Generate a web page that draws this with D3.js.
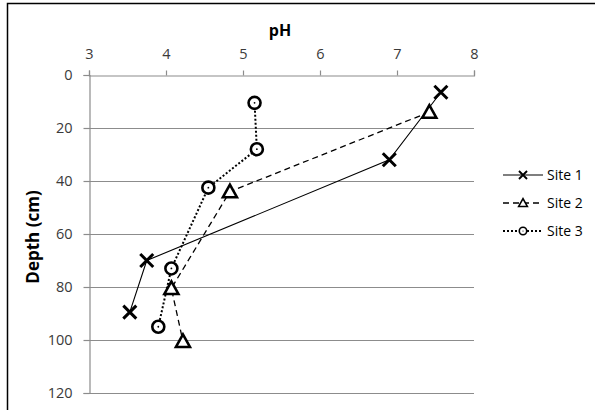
<!DOCTYPE html>
<html>
<head>
<meta charset="utf-8">
<script src="https://cdn.jsdelivr.net/npm/d3@7"></script>
<style>
  html, body { margin: 0; padding: 0; background: #fff; }
  svg { display: block; }
  text { font-family: "Open Sans", Lato, sans-serif; }
</style>
</head>
<body>
<svg id="chart" width="595" height="410"></svg>
<script>
// Soil pH profiles at three sites (pH vs depth)
const seriesNames = ["Site 1", "Site 2", "Site 3"];
const site1PH    = [7.57, 6.90, 3.75, 3.53];
const site1Depth = [6.5, 32, 70, 89.5];
const site2PH    = [7.42, 4.83, 4.07, 4.22];
const site2Depth = [14, 44, 80.5, 100.5];
const site3PH    = [5.15, 5.18, 4.55, 4.07, 3.90];
const site3Depth = [10.5, 28, 42.5, 73, 95];
const phTicks    = [3, 4, 5, 6, 7, 8];
const depthTicks = [0, 20, 40, 60, 80, 100, 120];

const series = [
  { name: seriesNames[0], ph: site1PH, depth: site1Depth, marker: "cross",    dash: null,  width: 1.1 },
  { name: seriesNames[1], ph: site2PH, depth: site2Depth, marker: "triangle", dash: "6,4", width: 1.3 },
  { name: seriesNames[2], ph: site3PH, depth: site3Depth, marker: "circle",   dash: "2,2", width: 2 }
];

const svg = d3.select("#chart");
const W = 595, H = 410;
const plotLeft = 89, plotRight = 474, plotTop = 75, plotBottom = 393;

// outer chart frame
svg.append("rect").attr("x", 7.5).attr("y", 3.5).attr("width", W + 10).attr("height", H + 10)
  .attr("fill", "#fff").attr("stroke", "#000").attr("stroke-width", 1.5);

const x = d3.scaleLinear().domain([3, 8]).range([plotLeft, plotRight]);
const y = d3.scaleLinear().domain([0, 120]).range([plotTop, plotBottom]);

// horizontal gridlines
svg.append("g").selectAll("line").data(depthTicks.filter(d => d > 0)).join("line")
  .attr("x1", plotLeft).attr("x2", plotRight)
  .attr("y1", d => Math.round(y(d)) + 0.5).attr("y2", d => Math.round(y(d)) + 0.5)
  .attr("stroke", "#8c8c8c").attr("stroke-width", 1.2);

// top pH axis
const xAxis = svg.append("g").attr("transform", `translate(0,${Math.round(plotTop) + 0.5})`)
  .call(d3.axisTop(x).tickValues(phTicks).tickSize(5).tickPadding(12).tickFormat(d3.format("d")));
// left depth axis
const yAxis = svg.append("g").attr("transform", `translate(${Math.round(plotLeft) + 0.5},0)`)
  .call(d3.axisLeft(y).tickValues(depthTicks).tickSize(6).tickPadding(11).tickFormat(d3.format("d")));

[xAxis, yAxis].forEach(g => {
  g.select(".domain").attr("stroke", "#8c8c8c").attr("stroke-width", 1.2);
  g.selectAll(".tick line").attr("stroke", "#8c8c8c").attr("stroke-width", 1.2);
  g.selectAll(".tick text").attr("fill", "#3a3a3a").style("font-size", "14.5px")
    .style("font-family", "'Open Sans', Lato, sans-serif");
});

// axis titles
svg.append("text").attr("x", 280).attr("y", 36).attr("text-anchor", "middle")
  .style("font-size", "16px").style("font-weight", "bold").attr("fill", "#000").text("pH");
svg.append("text").attr("transform", "translate(39,237) rotate(-90)").attr("text-anchor", "middle")
  .style("font-size", "17px").style("font-weight", "bold").attr("fill", "#000").text("Depth (cm)");

// marker drawing
function drawMarker(g, type, cx, cy) {
  if (type === "cross") {
    const s = 6.5;
    g.append("path").attr("d", `M${cx - s},${cy - s}L${cx + s},${cy + s}M${cx - s},${cy + s}L${cx + s},${cy - s}`)
      .attr("stroke", "#000").attr("stroke-width", 3).attr("fill", "none");
  } else if (type === "triangle") {
    const s = 7;
    g.append("path").attr("d", `M${cx},${cy - s}L${cx + s},${cy + s * 0.8}L${cx - s},${cy + s * 0.8}Z`)
      .attr("stroke", "#000").attr("stroke-width", 2.6).attr("fill", "#fff").attr("stroke-linejoin", "miter");
  } else {
    g.append("circle").attr("cx", cx).attr("cy", cy).attr("r", 6)
      .attr("stroke", "#000").attr("stroke-width", 2.6).attr("fill", "#fff");
    g.append("circle").attr("cx", cx).attr("cy", cy).attr("r", 0.9).attr("fill", "#000");
  }
}

const line = d3.line().x(d => x(d[0])).y(d => y(d[1]));

series.forEach(s => {
  const pts = s.ph.map((p, i) => [p, s.depth[i]]);
  svg.append("path").datum(pts).attr("d", line)
    .attr("fill", "none").attr("stroke", "#000").attr("stroke-width", s.width)
    .attr("stroke-dasharray", s.dash);
});
series.forEach(s => {
  const g = svg.append("g");
  s.ph.forEach((p, i) => drawMarker(g, s.marker, x(p), y(s.depth[i])));
});

// legend
const legendY = [175, 203, 231];
series.forEach((s, i) => {
  const g = svg.append("g");
  const ly = legendY[i];
  g.append("line").attr("x1", 503).attr("x2", 543).attr("y1", ly).attr("y2", ly)
    .attr("stroke", "#000").attr("stroke-width", s.width).attr("stroke-dasharray", s.dash);
  const lg = g.append("g").attr("transform", `translate(523,${ly}) scale(0.62) translate(-523,${-ly})`);
  drawMarker(lg, s.marker, 523, ly);
  g.append("text").attr("x", 547).attr("y", ly + 5).style("font-size", "14px").attr("fill", "#000").text(s.name);
});
</script>
</body>
</html>
